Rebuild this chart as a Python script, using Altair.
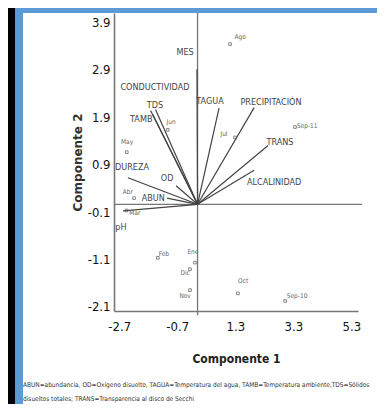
import altair as alt
import pandas as pd

# ---- data ----
var_names = ["MES", "CONDUCTIVIDAD", "TDS", "TAMB", "TAGUA", "PRECIPITACIÓN",
             "TRANS", "ALCALINIDAD", "OD", "DUREZA", "ABUN", "pH"]
var_x = [-0.02, -1.62, -1.45, -1.55, 0.74, 1.95, 2.43, 1.95, -0.74, -2.40, -1.05, -2.57]
var_y = [2.85, 1.98, 2.00, 1.90, 2.03, 2.04, 1.24, 0.72, 0.39, 0.56, 0.13, -0.14]
var_lx = [-0.43, -1.47, -1.47, -1.94, 0.43, 2.53, 2.84, 2.64, -1.05, -2.26, -1.53, -2.64]
var_ly = [3.22, 2.47, 2.10, 1.80, 2.17, 2.15, 1.32, 0.47, 0.56, 0.79, 0.13, -0.48]

month_names = ["Ago", "Sep-11", "Jul", "Jun", "May", "Abr", "Mar", "Feb", "Ene",
               "Dic", "Nov", "Oct", "Sep-10"]
month_x = [1.12, 3.36, 1.29, -1.03, -2.44, -2.19, -2.45, -1.37, -0.09, -0.26, -0.26, 1.39, 3.02]
month_y = [3.38, 1.63, 1.41, 1.57, 1.10, 0.13, -0.13, -1.13, -1.23, -1.37, -1.81, -1.88, -2.04]
month_lx = [1.47, 3.78, 0.91, -0.91, -2.43, -2.40, -2.16, -1.16, -0.16, -0.43, -0.43, 1.57, 3.43]
month_ly = [3.53, 1.65, 1.48, 1.73, 1.31, 0.26, -0.18, -1.05, -1.00, -1.45, -1.94, -1.62, -1.94]

x_ticks = [-2.7, -0.7, 1.3, 3.3, 5.3]
y_ticks = [3.9, 2.9, 1.9, 0.9, -0.1, -1.1, -2.1]

caption1 = ("ABUN=abundancia, OD=Oxígeno disuelto, TAGUA=Temperatura del agua, "
            "TAMB=Temperatura ambiente,TDS=Sólidos")
caption2 = "disueltos totales; TRANS=Transparencia al disco de Secchi"

NARROW = "'Liberation Sans Narrow', 'DejaVu Sans Condensed', sans-serif"
LABEL_EXPR = "replace(format(datum.value, '.1f'), '\u2212', '-')"

vars_df = pd.DataFrame({"name": var_names, "x0": 0.0, "y0": 0.0, "x": var_x, "y": var_y,
                        "lx": var_lx, "ly": var_ly})
months_df = pd.DataFrame({"name": month_names, "x": month_x, "y": month_y,
                          "lx": month_lx, "ly": month_ly})

xs = alt.Scale(domain=[-2.88, 5.53], nice=False, zero=False)
ys = alt.Scale(domain=[-2.251, 4.036], nice=False, zero=False)

x_axis = alt.Axis(values=x_ticks, labelExpr=LABEL_EXPR, ticks=False, grid=False, zindex=2,
                  domainColor="#777", domainWidth=1.6, labelFont=NARROW,
                  labelFontSize=13, labelColor="#111", labelPadding=9,
                  title="Componente 1", titleFont=NARROW, titleFontSize=12,
                  titleFontWeight="bold", titleColor="#222", titleY=47,
                  titleBaseline="middle")
y_axis = alt.Axis(values=y_ticks, labelExpr=LABEL_EXPR, ticks=False, grid=False, zindex=2,
                  domainColor="#777", domainWidth=1.6, labelFont=NARROW,
                  labelFontSize=13, labelColor="#111", labelPadding=4,
                  labelOffset=3,
                  title="Componente 2", titleFont="DejaVu Sans", titleFontSize=12,
                  titleFontWeight="bold", titleColor="#333", titleAngle=270,
                  titleX=-37, titleY=149, titleAlign="center", titleBaseline="middle")

one = pd.DataFrame({"a": [0]})

blue = alt.Chart(one).mark_rect(color="#5B9BD5").encode(
    x=alt.value(-99), x2=alt.value(280), y=alt.value(-5), y2=alt.value(400))
white = alt.Chart(one).mark_rect(color="#ffffff").encode(
    x=alt.value(-91), x2=alt.value(280), y=alt.value(0), y2=alt.value(400))

cap1 = alt.Chart(one).mark_text(align="left", baseline="middle", font=NARROW,
                                fontSize=6.5, color="#333").encode(
    x=alt.value(-91), y=alt.value(372), text=alt.value(caption1))
cap2 = alt.Chart(one).mark_text(align="left", baseline="middle", font=NARROW,
                                fontSize=6.5, color="#333").encode(
    x=alt.value(-91), y=alt.value(386), text=alt.value(caption2))

hzero = alt.Chart(one).mark_rule(color="#777", strokeWidth=1.3).encode(
    x=alt.datum(-2.88, scale=xs, axis=x_axis), x2=alt.datum(5.67),
    y=alt.datum(0, scale=ys, axis=y_axis))
vzero = alt.Chart(one).mark_rule(color="#777", strokeWidth=1.3).encode(
    x=alt.datum(0, scale=xs), y=alt.datum(-2.34, scale=ys), y2=alt.datum(4.036))

vectors = alt.Chart(vars_df).mark_rule(color="#444", strokeWidth=1.2).encode(
    x=alt.X("x0:Q", scale=xs), y=alt.Y("y0:Q", scale=ys),
    x2="x:Q", y2="y:Q")
vlabels = alt.Chart(vars_df).mark_text(font=NARROW, fontSize=9, color="#444",
                                       baseline="middle").encode(
    x=alt.X("lx:Q", scale=xs), y=alt.Y("ly:Q", scale=ys), text="name:N")

points = alt.Chart(months_df).mark_point(shape="square", size=7, color="#555",
                                         strokeWidth=1, filled=False).encode(
    x=alt.X("x:Q", scale=xs), y=alt.Y("y:Q", scale=ys))
plabels = alt.Chart(months_df).mark_text(font=NARROW, fontSize=6.5, color="#666",
                                         baseline="middle").encode(
    x=alt.X("lx:Q", scale=xs), y=alt.Y("ly:Q", scale=ys), text="name:N")

chart = alt.layer(
    blue, white, cap1, cap2,
    hzero, vzero, vectors, vlabels, points, plabels
).properties(
    width=244, height=298,
    autosize=alt.AutoSizeParams(type="none"),
    padding={"left": 106, "top": 5, "right": 19, "bottom": 93},
).configure(background="#000000").configure_view(stroke=None)

chart.save("out.html", embed_options={"renderer": "svg", "actions": False})
